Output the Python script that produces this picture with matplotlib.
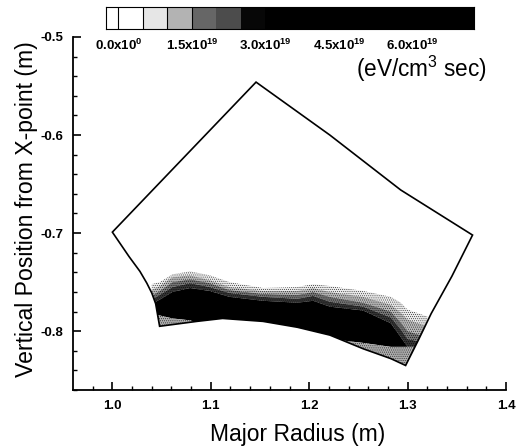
# -*- coding: utf-8 -*-
import numpy as np
import matplotlib
matplotlib.use('Agg')
import matplotlib.pyplot as plt
from matplotlib.patches import Polygon

plt.rcParams['font.family'] = ['Liberation Sans', 'DejaVu Sans']
plt.rcParams['mathtext.fontset'] = 'custom'
plt.rcParams['mathtext.rm'] = 'Liberation Sans'
plt.rcParams['mathtext.bf'] = 'Liberation Sans:bold'
plt.rcParams['hatch.linewidth'] = 0.3

# divertor outline (major radius, height)
wall_r = [1.000, 1.146, 1.221, 1.293, 1.366, 1.345, 1.324, 1.311, 1.298, 1.283, 1.255, 1.221, 1.188,
          1.153, 1.112, 1.086, 1.048, 1.044, 1.040, 1.035, 1.028, 1.017]
wall_z = [-0.699, -0.546, -0.600, -0.656, -0.702, -0.744, -0.782, -0.809, -0.835, -0.828, -0.818, -0.804, -0.796,
          -0.790, -0.787, -0.790, -0.795, -0.772, -0.761, -0.751, -0.739, -0.724]

# emission band edges
band_r = [1.040, 1.048, 1.061, 1.079, 1.099, 1.119, 1.153, 1.188, 1.204, 1.221, 1.255, 1.283, 1.293, 1.300, 1.320]
band_floor = [-0.840, -0.840, -0.840, -0.840, -0.840, -0.840, -0.840, -0.840, -0.840, -0.840, -0.840, -0.840, -0.840, -0.840, -0.840]
band_dark_low = [-0.783, -0.784, -0.787, -0.789, -0.795, -0.795, -0.797, -0.802, -0.805, -0.808, -0.812, -0.816, -0.816, -0.816, -0.816]
band_dark_top = [-0.772, -0.768, -0.760, -0.756, -0.759, -0.765, -0.769, -0.771, -0.769, -0.775, -0.779, -0.792, -0.806, -0.816, -0.816]
band_deep_top = [-0.768, -0.763, -0.755, -0.751, -0.755, -0.761, -0.765, -0.767, -0.764, -0.770, -0.775, -0.786, -0.798, -0.808, -0.812]
band_mid_top = [-0.764, -0.759, -0.750, -0.747, -0.751, -0.758, -0.762, -0.763, -0.760, -0.765, -0.771, -0.780, -0.791, -0.800, -0.806]
band_pale_top = [-0.758, -0.754, -0.745, -0.743, -0.748, -0.755, -0.759, -0.759, -0.756, -0.760, -0.765, -0.773, -0.781, -0.788, -0.795]
band_haze_top = [-0.752, -0.750, -0.742, -0.739, -0.743, -0.750, -0.756, -0.755, -0.752, -0.754, -0.759, -0.765, -0.771, -0.778, -0.785]

# colour scale
cbar_edges = [-0.25, 0.0, 0.5, 1.0, 1.5, 2.0, 2.5, 3.0, 7.25]
cbar_grays = [1.0, 1.0, 0.9, 0.7, 0.4, 0.3, 0.03, 0.0]
cbar_ticks = [0.0, 1.5, 3.0, 4.5, 6.0]
cbar_labels = [r'$\mathbf{0.0x10^0}$', r'$\mathbf{1.5x10^{19}}$', r'$\mathbf{3.0x10^{19}}$',
               r'$\mathbf{4.5x10^{19}}$', r'$\mathbf{6.0x10^{19}}$']

W, H = 525.0, 447.0
fig = plt.figure(figsize=(5.25, 4.47), dpi=100)
ax = fig.add_axes([73 / W, 1 - 390 / H, 433 / W, 353 / H])
ax.set_xlim(0.96, 1.4)
ax.set_ylim(-0.86, -0.5)
for side in ['top', 'right']:
    ax.spines[side].set_visible(False)
for side in ['left', 'bottom']:
    ax.spines[side].set_linewidth(1.3)

wall_xy = np.column_stack([wall_r, wall_z])
clip = Polygon(wall_xy, closed=True, transform=ax.transData, facecolor='none', edgecolor='none')
ax.add_patch(clip)

layers = [
    (band_haze_top, band_pale_top, '0.92'),
    (band_pale_top, band_mid_top, '0.72'),
    (band_mid_top, band_deep_top, '0.45'),
    (band_deep_top, band_dark_top, '0.2'),
    (band_dark_top, band_dark_low, '0.0'),
    (band_dark_low, band_floor, '0.68'),
]
for upper, lower, shade in layers:
    fill = ax.fill_between(band_r, lower, upper, facecolor=shade, edgecolor='k',
                           linewidth=0, hatch='........', zorder=2)
    fill.set_clip_path(clip)

ax.add_patch(Polygon(wall_xy, closed=True, facecolor='none', edgecolor='k', linewidth=1.2, zorder=3))

ax.set_xticks([1.0, 1.1, 1.2, 1.3, 1.4])
ax.set_xticklabels(['1.0', '1.1', '1.2', '1.3', '1.4'], fontweight='bold', fontsize=9.5)
ax.set_yticks([-0.8, -0.7, -0.6, -0.5])
ax.set_yticklabels(['-0.8', '-0.7', '-0.6', '-0.5'], fontweight='bold', fontsize=9.5)
ax.set_xticks(np.arange(0.98, 1.4, 0.02), minor=True)
ax.set_yticks(np.arange(-0.86, -0.5, 0.02), minor=True)
ax.tick_params(which='major', direction='in', length=6, width=1.2, pad=7)
ax.tick_params(which='minor', direction='in', length=3, width=1.0)
ax.set_xlabel('Major Radius (m)', fontsize=16.5)
ax.set_ylabel('Vertical Position from X-point (m)', fontsize=16.6)
ax.xaxis.set_label_coords((298 - 73) / 433.0, -(423 - 390) / 353.0)
ax.yaxis.set_label_coords(-(73 - 38) / 433.0, (390 - 209) / 353.0)

cax = fig.add_axes([106 / W, 1 - 29 / H, 368 / W, 22 / H])
cax.pcolormesh(cbar_edges, [0, 1], np.array(cbar_grays)[None, :], cmap='gray', vmin=0, vmax=1)
for edge in cbar_edges[1:5]:
    cax.axvline(edge, color='k', linewidth=0.8)
cax.set_xlim(cbar_edges[0], cbar_edges[-1])
cax.set_ylim(0, 1)
cax.set_yticks([])
cax.set_xticks(cbar_ticks)
cax.set_xticklabels(cbar_labels, fontsize=9.5)
cax.tick_params(length=0, pad=6)
for spine in cax.spines.values():
    spine.set_linewidth(0.8)

fig.text(356 / W, 1 - 77 / H, '(eV/cm$^3$ sec)', fontsize=16.3, ha='left', va='baseline')

fig.savefig('out.png', dpi=100)
